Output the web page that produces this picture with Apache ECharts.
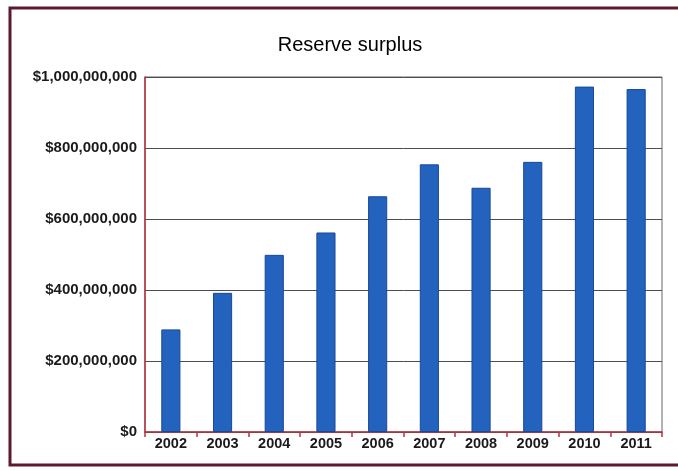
<!DOCTYPE html>
<html>
<head>
<meta charset="utf-8">
<script src="https://cdn.jsdelivr.net/npm/echarts@6/dist/echarts.min.js"></script>
<style>
html,body{margin:0;padding:0;background:#fff;}
#chart{width:678px;height:471px;}
</style>
</head>
<body>
<div id="chart"></div>
<script>
const titleText = 'Reserve surplus';
const years = ['2002','2003','2004','2005','2006','2007','2008','2009','2010','2011'];
const reserveSurplus = [289000000, 392000000, 499000000, 562000000, 664000000, 754000000, 688000000, 761000000, 973000000, 966000000];
const yTickValues = [0, 200000000, 400000000, 600000000, 800000000, 1000000000];

const chart = echarts.init(document.getElementById('chart'), null, {renderer:'canvas'});
chart.setOption({
  backgroundColor: '#ffffff',
  animation: false,
  title: {
    text: titleText,
    left: 345, top: 30, textAlign: 'center',
    textStyle: {fontFamily: 'Liberation Sans, Arial', fontSize: 20, fontWeight: 'normal', color: '#000'}
  },
  graphic: [
    {type:'rect', shape:{x:10, y:8, width:700, height:457}, style:{fill:'none', stroke:'#5c1a2c', lineWidth:3}, z:-1}
  ],
  grid: {left:145, right:16, top:77, bottom:39, show:true, borderColor:'#666', borderWidth:1, backgroundColor:'transparent'},
  xAxis: {
    type:'category', data: years, boundaryGap:true,
    axisLine:{show:true, lineStyle:{color:'#b8323f', width:1.5}},
    axisTick:{show:true, length:5, lineStyle:{color:'#b8323f', width:1.5}},
    axisLabel:{fontFamily:'Liberation Sans, Arial', fontWeight:'bold', fontSize:14.5, color:'#1a1a1a', margin:4}
  },
  yAxis: {
    type:'value', min: yTickValues[0], max: yTickValues[yTickValues.length-1], interval: yTickValues[1]-yTickValues[0],
    axisLine:{show:true, lineStyle:{color:'#b8323f', width:1.5}},
    axisTick:{show:false},
    splitLine:{show:true, lineStyle:{color:'#4d4d4d', width:1}},
    axisLabel:{fontFamily:'Liberation Sans, Arial', fontWeight:'bold', fontSize:15, color:'#1a1a1a', margin:8,
      formatter: v => '$' + v.toLocaleString('en-US')}
  },
  series: [{
    type:'bar', data: reserveSurplus, barWidth:'37%',
    itemStyle:{color:'#2463bd', borderColor:'#17489a', borderWidth:1}
  }]
});
</script>
</body>
</html>
